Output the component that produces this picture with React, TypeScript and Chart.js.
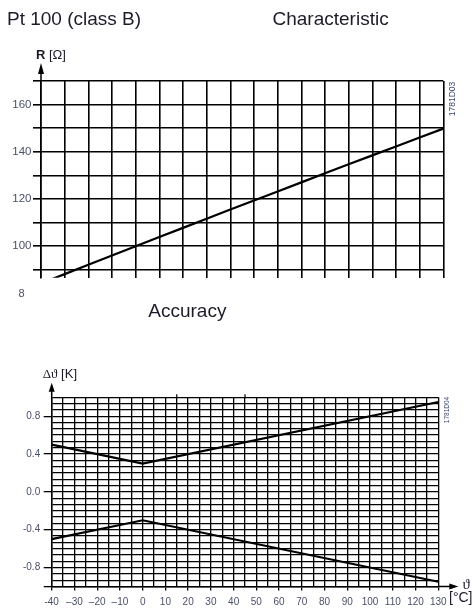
import React, { useEffect, useRef } from "react";
import { Chart, registerables } from "chart.js";

Chart.register(...registerables);

// ---------- Characteristic (R vs temperature) ----------
const charTemps = [-40, -30, -20, -10, 0, 10, 20, 30, 40, 50, 60, 70, 80, 90, 100, 110, 120, 130];
const charResistance = [84.27, 88.22, 92.16, 96.09, 100.0, 103.9, 107.79, 111.67, 115.54, 119.4, 123.24, 127.08, 130.9, 134.71, 138.51, 142.29, 146.07, 149.83];
const charYGrid = [90, 100, 110, 120, 130, 140, 150, 160, 170];
const charYLabelValues = [100, 120, 140, 160];
const charYLabels = ["100", "120", "140", "160"];

// ---------- Accuracy (class B tolerance) ----------
const accTemps = [-40, 0, 130];
const accUpper = [0.5, 0.3, 0.95];
const accLower = [-0.5, -0.3, -0.95];
const accXLabelValues = [-40, -30, -20, -10, 0, 10, 20, 30, 40, 50, 60, 70, 80, 90, 100, 110, 120, 130];
const accXLabels = ["-40", "–30", "–20", "–10", "0", "10", "20", "30", "40", "50", "60", "70", "80", "90", "100", "110", "120", "130"];
const accYLabelValues = [0.8, 0.4, 0, -0.4, -0.8];
const accYLabels = ["0.8", "0.4", "0.0", "-0.4", "-0.8"];

const accXGrid = Array.from({ length: 35 }, (_, i) => -40 + 5 * i);
const accYGrid = Array.from({ length: 31 }, (_, i) => -1 + (i * 2) / 30);

const FONT = "'Liberation Sans', Arial, sans-serif";
const TICK_COLOR = "#4a5068";

const labelFor = (vals: number[], labels: string[], v: number) => {
  const i = vals.findIndex((t) => Math.abs(t - v) < 1e-6);
  return i >= 0 ? labels[i] : "";
};
const isIn = (vals: number[], v: number) => vals.some((t) => Math.abs(t - v) < 1e-6);

const decorPlugin = {
  id: "decor",
  afterDraw(chart: any, _args: any, opts: any) {
    const { ctx, chartArea: a } = chart;
    ctx.save();
    ctx.strokeStyle = "#000";
    ctx.fillStyle = "#000";
    ctx.lineWidth = 1.5;
    const x0 = a.left;
    if (opts.yArrow) {
      const tip = a.top - opts.yArrow;
      ctx.beginPath();
      ctx.moveTo(x0, a.top);
      ctx.lineTo(x0, tip + 4);
      ctx.stroke();
      ctx.beginPath();
      ctx.moveTo(x0, tip);
      ctx.lineTo(x0 - 3, tip + opts.head);
      ctx.lineTo(x0 + 3, tip + opts.head);
      ctx.closePath();
      ctx.fill();
    }
    if (opts.xArrow) {
      const y0 = a.bottom;
      const tip = a.right + opts.xArrow;
      ctx.beginPath();
      ctx.moveTo(a.right, y0);
      ctx.lineTo(tip - 4, y0);
      ctx.stroke();
      ctx.beginPath();
      ctx.moveTo(tip, y0);
      ctx.lineTo(tip - opts.head, y0 - 3);
      ctx.lineTo(tip - opts.head, y0 + 3);
      ctx.closePath();
      ctx.fill();
    }
    if (opts.topMarks) {
      ctx.lineWidth = 1.2;
      for (const v of opts.topMarks) {
        const px = chart.scales.x.getPixelForValue(v);
        ctx.beginPath();
        ctx.moveTo(px, a.top - 3);
        ctx.lineTo(px, a.top);
        ctx.stroke();
      }
    }
    ctx.restore();
  },
};

export default function App() {
  const topRef = useRef<HTMLCanvasElement>(null);
  const botRef = useRef<HTMLCanvasElement>(null);

  useEffect(() => {
    const top = new Chart(topRef.current as HTMLCanvasElement, {
      type: "line",
      data: {
        datasets: [
          {
            data: charTemps.map((t, i) => ({ x: t, y: charResistance[i] })),
            borderColor: "#000",
            borderWidth: 2.2,
            pointRadius: 0,
            tension: 0,
            clip: 0,
          } as any,
        ],
      },
      options: {
        animation: false,
        responsive: false,
        events: [],
        layout: { padding: { top: 81, right: 31.7, left: 0, bottom: 0 } },
        plugins: {
          legend: { display: false },
          tooltip: { enabled: false },
          decor: { yArrow: 18, head: 11 },
        } as any,
        scales: {
          x: {
            type: "linear",
            min: -40,
            max: 130,
            afterBuildTicks: (s: any) => {
              s.ticks = charTemps.map((v) => ({ value: v }));
            },
            afterFit: (s: any) => {
              s.height = 22.3;
            },
            ticks: { display: false },
            grid: { color: "#000", lineWidth: 1.6, drawTicks: false },
            border: { display: false },
          },
          y: {
            type: "linear",
            min: 86.7,
            max: 170,
            afterBuildTicks: (s: any) => {
              s.ticks = charYGrid.map((v) => ({ value: v }));
            },
            afterFit: (s: any) => {
              s.width = 41;
            },
            ticks: {
              autoSkip: false,
              padding: 1.5,
              color: TICK_COLOR,
              font: { family: FONT, size: 11.5 },
              callback: (v: any) => labelFor(charYLabelValues, charYLabels, Number(v)),
            },
            grid: { color: "#000", lineWidth: 1.6, tickLength: 8, tickColor: "#000" },
            border: { color: "#000", width: 1.6 },
          },
        },
      } as any,
      plugins: [decorPlugin],
    });

    const bot = new Chart(botRef.current as HTMLCanvasElement, {
      type: "line",
      data: {
        datasets: [
          {
            data: accTemps.map((t, i) => ({ x: t, y: accUpper[i] })),
            borderColor: "#000",
            borderWidth: 2.2,
            pointRadius: 0,
            tension: 0,
          },
          {
            data: accTemps.map((t, i) => ({ x: t, y: accLower[i] })),
            borderColor: "#000",
            borderWidth: 2.2,
            pointRadius: 0,
            tension: 0,
          },
        ],
      },
      options: {
        animation: false,
        responsive: false,
        events: [],
        layout: { padding: { top: 67.3, right: 36.7, left: 0, bottom: 0 } },
        plugins: {
          legend: { display: false },
          tooltip: { enabled: false },
          decor: { yArrow: 14.6, xArrow: 20, head: 9, topMarks: [15, 45] },
        } as any,
        scales: {
          x: {
            type: "linear",
            min: -40,
            max: 130,
            afterBuildTicks: (s: any) => {
              s.ticks = accXGrid.map((v) => ({ value: v }));
            },
            afterFit: (s: any) => {
              s.height = 25.5;
            },
            ticks: {
              autoSkip: false,
              maxRotation: 0,
              padding: 6,
              color: TICK_COLOR,
              font: { family: FONT, size: 10 },
              callback: (v: any) => labelFor(accXLabelValues, accXLabels, Number(v)),
            },
            grid: {
              color: "#000",
              lineWidth: 1.3,
              tickLength: 4,
              tickColor: (c: any) => (c.tick && isIn(accXLabelValues, c.tick.value) ? "#000" : "rgba(0,0,0,0)"),
            },
            border: { color: "#000", width: 1.5 },
          },
          y: {
            type: "linear",
            min: -1,
            max: 1,
            afterBuildTicks: (s: any) => {
              s.ticks = accYGrid.map((v) => ({ value: v }));
            },
            afterFit: (s: any) => {
              s.width = 51.7;
            },
            ticks: {
              autoSkip: false,
              padding: 3.5,
              color: TICK_COLOR,
              font: { family: FONT, size: 10 },
              callback: (v: any) => labelFor(accYLabelValues, accYLabels, Number(v)),
            },
            grid: {
              color: "#000",
              lineWidth: 1.3,
              tickLength: 8,
              tickColor: (c: any) =>
                c.tick && (isIn(accYLabelValues, c.tick.value) || Math.abs(c.tick.value + 1) < 1e-6)
                  ? "#000"
                  : "rgba(0,0,0,0)",
            },
            border: { color: "#000", width: 1.5 },
          },
        },
      } as any,
      plugins: [decorPlugin],
    });

    return () => {
      top.destroy();
      bot.destroy();
    };
  }, []);

  const txt = (extra: React.CSSProperties): React.CSSProperties => ({
    position: "absolute",
    fontFamily: FONT,
    lineHeight: 1,
    whiteSpace: "nowrap",
    color: "#1c1c28",
    ...extra,
  });

  return (
    <div style={{ position: "absolute", left: 0, top: 0, width: 475, height: 612, background: "#fff", overflow: "hidden" }}>
      <canvas ref={topRef} width={475} height={300} style={{ position: "absolute", left: 0, top: 0, width: 475, height: 300 }} />
      <canvas ref={botRef} width={475} height={282} style={{ position: "absolute", left: 0, top: 330, width: 475, height: 282 }} />

      <div style={txt({ left: 7, top: 8.9, fontSize: 19 })}>Pt 100 (class B)</div>
      <div style={txt({ left: 272.5, top: 8.9, fontSize: 19 })}>Characteristic</div>
      <div style={txt({ left: 36, top: 48.3, fontSize: 13 })}>
        <b>R</b> [Ω]
      </div>
      <div style={txt({ left: 18.5, top: 288, fontSize: 11, color: TICK_COLOR })}>8</div>
      <div style={txt({ left: 148.3, top: 301.2, fontSize: 19 })}>Accuracy</div>
      <div style={txt({ left: 42.7, top: 367, fontSize: 13 })}>
        <span style={{ fontFamily: "'Liberation Serif', serif" }}>Δϑ</span> [K]
      </div>
      <div style={txt({ left: 462.5, top: 577.4, fontSize: 15, fontFamily: "'Liberation Serif', serif" })}>ϑ</div>
      <div style={txt({ left: 449, top: 590.1, fontSize: 14 })}>[°C]</div>
      <div
        style={txt({
          left: 452,
          top: 99,
          fontSize: 8.5,
          color: "#3a4670",
          transform: "translate(-50%, -50%) rotate(-90deg)",
        })}
      >
        1781D03
      </div>
      <div
        style={txt({
          left: 447,
          top: 410,
          fontSize: 6.5,
          color: "#3a4670",
          transform: "translate(-50%, -50%) rotate(-90deg)",
        })}
      >
        1781D04
      </div>
    </div>
  );
}
